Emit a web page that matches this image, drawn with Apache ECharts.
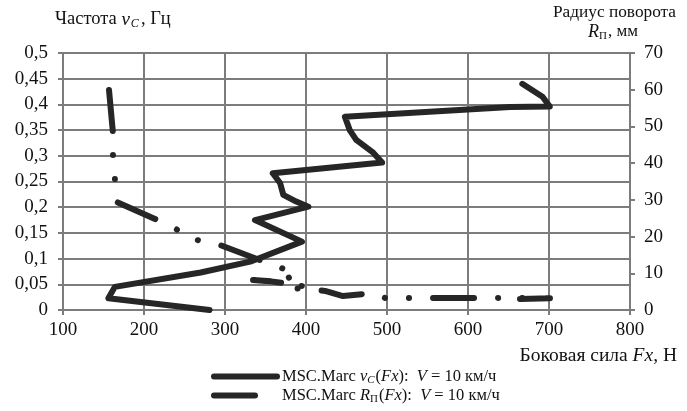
<!DOCTYPE html>
<html>
<head>
<meta charset="utf-8">
<script src="https://cdn.jsdelivr.net/npm/echarts@6/dist/echarts.min.js"></script>
<style>
html, body { margin: 0; padding: 0; background: #fff; }
#chart { width: 687px; height: 411px; }
</style>
</head>
<body>
<div id="chart"></div>
<script>
// частота vC(Fx): боковая сила, Н / частота, Гц
let vcForce = [281, 156, 164, 270, 331, 395, 337, 403, 388, 372, 368, 359, 494, 483, 462, 454, 448, 652, 701, 692, 667];
let vcFreq = [0, 0.023, 0.045, 0.073, 0.094, 0.133, 0.175, 0.201, 0.211, 0.224, 0.247, 0.266, 0.287, 0.306, 0.331, 0.35, 0.376, 0.395, 0.396, 0.415, 0.44];

// радиус поворота Rп(Fx): боковая сила, Н / радиус, мм
let rpForce = [156.8, 161.7, 161.7, 164.2, 166.7, 213.6, 239.5, 254.3, 293.8, 343.2, 369.1, 388.5, 365.4, 334.6, 356.8, 396.7, 377.4, 423.5, 445.7, 481.5, 497.5, 525.9, 553.1, 606.2, 635.8, 701.2, 664.2];
let rpRadius = [59.9, 48.2, 41.9, 35.4, 29.4, 24.8, 22.1, 19.6, 17.7, 13.6, 11.5, 9.7, 7.6, 8.2, 7.8, 6.6, 6.1, 5.2, 3.8, 4.6, 3.3, 3.3, 3.3, 3.3, 3.3, 3.2, 3.0];

let forceTicks = ['100', '200', '300', '400', '500', '600', '700', '800'];
let freqTicks = ['0', '0,05', '0,1', '0,15', '0,2', '0,25', '0,3', '0,35', '0,4', '0,45', '0,5'];
let radiusTicks = ['0', '10', '20', '30', '40', '50', '60', '70'];

let serif = '"Liberation Serif", "DejaVu Serif", serif';
let gridColor = '#7c7c7c';
let lineColor = '#262626';
let textColor = '#111';

let zip = (a, b) => a.map((v, i) => [v, b[i]]);

let legendRich = {
    t: { fontFamily: serif, fontSize: 16.5, color: textColor },
    i: { fontFamily: serif, fontSize: 16.5, fontStyle: 'italic', color: textColor },
    s: { fontFamily: serif, fontSize: 11, fontStyle: 'italic', color: textColor, padding: [8, 1, 0, 0] },
    s2: { fontFamily: serif, fontSize: 11, color: textColor, padding: [8, 1, 0, 0] }
};

let legendBase = {
    orient: 'horizontal',
    left: 211,
    padding: 0,
    itemWidth: 63,
    itemHeight: 12,
    itemStyle: { opacity: 0, color: 'rgba(0,0,0,0)', borderWidth: 0 },
    textStyle: { rich: legendRich }
};

let chart = echarts.init(document.getElementById('chart'));

let option = {
    backgroundColor: '#fff',
    animation: false,
    grid: { left: 63, right: 57, top: 53, bottom: 101 },
    legend: [
        Object.assign({}, legendBase, {
            top: 368,
            data: ['vc'],
            lineStyle: { width: 6, cap: 'round', type: 'solid' },
            formatter: () => '{t|MSC.Marc }{i|ν}{s|C}{t|(}{i|Fx}{t|):  }{i|V}{t| = 10 км/ч}'
        }),
        Object.assign({}, legendBase, {
            top: 387,
            data: ['rp'],
            lineStyle: { width: 6, cap: 'round', type: [41, 200] },
            formatter: () => '{t|MSC.Marc }{i|R}{s2|П}{t|(}{i|Fx}{t|):  }{i|V}{t| = 10 км/ч}'
        })
    ],
    xAxis: {
        type: 'value',
        min: 100,
        max: 800,
        interval: 100,
        axisLine: { lineStyle: { color: gridColor, width: 2 } },
        axisTick: { show: true, length: 5, lineStyle: { color: gridColor, width: 2 } },
        splitLine: { show: true, lineStyle: { color: gridColor, width: 2 } },
        axisLabel: {
            margin: 11,
            fontFamily: serif,
            fontSize: 19,
            color: textColor,
            formatter: (v, i) => forceTicks[i]
        }
    },
    yAxis: [
        {
            type: 'value',
            min: 0,
            max: 0.5,
            interval: 0.05,
            axisLine: { show: true, lineStyle: { color: gridColor, width: 2 } },
            axisTick: { show: true, length: 5, lineStyle: { color: gridColor, width: 2 } },
            splitLine: { show: true, lineStyle: { color: gridColor, width: 2 } },
            axisLabel: {
                margin: 15,
                fontFamily: serif,
                fontSize: 19,
                color: textColor,
                formatter: (v, i) => freqTicks[i]
            }
        },
        {
            type: 'value',
            position: 'right',
            min: 0,
            max: 70,
            interval: 10,
            axisLine: { show: true, lineStyle: { color: gridColor, width: 2 } },
            axisTick: { show: true, length: 5, lineStyle: { color: gridColor, width: 2 } },
            splitLine: { show: false },
            axisLabel: {
                margin: 14,
                fontFamily: serif,
                fontSize: 19,
                color: textColor,
                formatter: (v, i) => radiusTicks[i]
            }
        }
    ],
    graphic: [
        {
            type: 'text',
            left: 55,
            top: 10,
            style: {
                text: '{a|Частота }{b|ν}{c|C}{a|, Гц}',
                rich: {
                    a: { fontFamily: serif, fontSize: 18.5, fill: textColor },
                    b: { fontFamily: serif, fontSize: 19, fontStyle: 'italic', fill: textColor },
                    c: { fontFamily: serif, fontSize: 12, fontStyle: 'italic', fill: textColor, padding: [8, 2, 0, 1] }
                }
            }
        },
        {
            type: 'text',
            left: 553,
            top: 4,
            style: {
                text: 'Радиус поворота',
                font: '17.3px ' + serif,
                fill: textColor
            }
        },
        {
            type: 'text',
            left: 588,
            top: 23,
            style: {
                text: '{b|R}{c|П}{a|, мм}',
                rich: {
                    a: { fontFamily: serif, fontSize: 17, fill: textColor },
                    b: { fontFamily: serif, fontSize: 18, fontStyle: 'italic', fill: textColor },
                    c: { fontFamily: serif, fontSize: 11, fill: textColor, padding: [8, 1, 0, 0] }
                }
            }
        },
        {
            type: 'text',
            right: 10,
            top: 346,
            style: {
                text: '{a|Боковая сила }{b|Fx}{a|, Н}',
                rich: {
                    a: { fontFamily: serif, fontSize: 19.5, fill: textColor },
                    b: { fontFamily: serif, fontSize: 19.5, fontStyle: 'italic', fill: textColor }
                }
            }
        }
    ],
    series: [
        {
            name: 'vc',
            type: 'line',
            yAxisIndex: 0,
            symbol: 'none',
            color: lineColor,
            lineStyle: { color: lineColor, width: 6, cap: 'round', join: 'round' },
            data: zip(vcForce, vcFreq)
        },
        {
            name: 'rp',
            type: 'line',
            yAxisIndex: 1,
            symbol: 'none',
            color: lineColor,
            lineStyle: {
                color: lineColor,
                width: 6,
                cap: 'round',
                join: 'round',
                type: [41, 24, 0.1, 24, 0.1, 24]
            },
            data: zip(rpForce, rpRadius)
        }
    ]
};

chart.setOption(option);
</script>
</body>
</html>
